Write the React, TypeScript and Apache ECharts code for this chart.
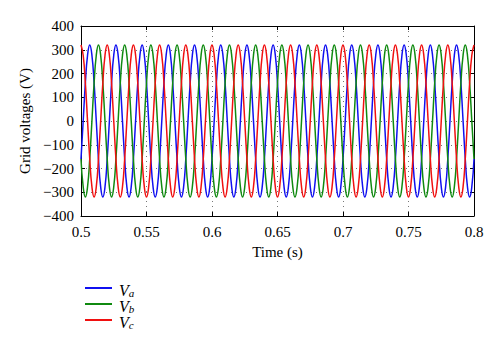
import React, { useEffect, useRef } from "react";
import * as echarts from "echarts";

// Legend / series names
const seriesNames = ["Va", "Vb", "Vc"];
const seriesColors = ["#1010f0", "#108a10", "#f01010"];

// Sampling of the waveforms (s)
const startTime = 0.5;
const sampleStep = 1 / 600;

// Axis ticks
const xTicks = { min: 0.5, max: 0.8, interval: 0.05 };
const yTicks = { min: -400, max: 400, interval: 100 };

// Grid voltages (V) at every sample (30° steps)
const va = [
  -160, 0, 160, 277, 320, 277, 160, 0, -160, -277, -320, -277,
  -160, 0, 160, 277, 320, 277, 160, 0, -160, -277, -320, -277,
  -160, 0, 160, 277, 320, 277, 160, 0, -160, -277, -320, -277,
  -160, 0, 160, 277, 320, 277, 160, 0, -160, -277, -320, -277,
  -160, 0, 160, 277, 320, 277, 160, 0, -160, -277, -320, -277,
  -160, 0, 160, 277, 320, 277, 160, 0, -160, -277, -320, -277,
  -160, 0, 160, 277, 320, 277, 160, 0, -160, -277, -320, -277,
  -160, 0, 160, 277, 320, 277, 160, 0, -160, -277, -320, -277,
  -160, 0, 160, 277, 320, 277, 160, 0, -160, -277, -320, -277,
  -160, 0, 160, 277, 320, 277, 160, 0, -160, -277, -320, -277,
  -160, 0, 160, 277, 320, 277, 160, 0, -160, -277, -320, -277,
  -160, 0, 160, 277, 320, 277, 160, 0, -160, -277, -320, -277,
  -160, 0, 160, 277, 320, 277, 160, 0, -160, -277, -320, -277,
  -160, 0, 160, 277, 320, 277, 160, 0, -160, -277, -320, -277,
  -160, 0, 160, 277, 320, 277, 160, 0, -160, -277, -320, -277,
  -160,
];

const vb = [
  -160, -277, -320, -277, -160, 0, 160, 277, 320, 277, 160, 0,
  -160, -277, -320, -277, -160, 0, 160, 277, 320, 277, 160, 0,
  -160, -277, -320, -277, -160, 0, 160, 277, 320, 277, 160, 0,
  -160, -277, -320, -277, -160, 0, 160, 277, 320, 277, 160, 0,
  -160, -277, -320, -277, -160, 0, 160, 277, 320, 277, 160, 0,
  -160, -277, -320, -277, -160, 0, 160, 277, 320, 277, 160, 0,
  -160, -277, -320, -277, -160, 0, 160, 277, 320, 277, 160, 0,
  -160, -277, -320, -277, -160, 0, 160, 277, 320, 277, 160, 0,
  -160, -277, -320, -277, -160, 0, 160, 277, 320, 277, 160, 0,
  -160, -277, -320, -277, -160, 0, 160, 277, 320, 277, 160, 0,
  -160, -277, -320, -277, -160, 0, 160, 277, 320, 277, 160, 0,
  -160, -277, -320, -277, -160, 0, 160, 277, 320, 277, 160, 0,
  -160, -277, -320, -277, -160, 0, 160, 277, 320, 277, 160, 0,
  -160, -277, -320, -277, -160, 0, 160, 277, 320, 277, 160, 0,
  -160, -277, -320, -277, -160, 0, 160, 277, 320, 277, 160, 0,
  -160,
];

const vc = [
  320, 277, 160, 0, -160, -277, -320, -277, -160, 0, 160, 277,
  320, 277, 160, 0, -160, -277, -320, -277, -160, 0, 160, 277,
  320, 277, 160, 0, -160, -277, -320, -277, -160, 0, 160, 277,
  320, 277, 160, 0, -160, -277, -320, -277, -160, 0, 160, 277,
  320, 277, 160, 0, -160, -277, -320, -277, -160, 0, 160, 277,
  320, 277, 160, 0, -160, -277, -320, -277, -160, 0, 160, 277,
  320, 277, 160, 0, -160, -277, -320, -277, -160, 0, 160, 277,
  320, 277, 160, 0, -160, -277, -320, -277, -160, 0, 160, 277,
  320, 277, 160, 0, -160, -277, -320, -277, -160, 0, 160, 277,
  320, 277, 160, 0, -160, -277, -320, -277, -160, 0, 160, 277,
  320, 277, 160, 0, -160, -277, -320, -277, -160, 0, 160, 277,
  320, 277, 160, 0, -160, -277, -320, -277, -160, 0, 160, 277,
  320, 277, 160, 0, -160, -277, -320, -277, -160, 0, 160, 277,
  320, 277, 160, 0, -160, -277, -320, -277, -160, 0, 160, 277,
  320, 277, 160, 0, -160, -277, -320, -277, -160, 0, 160, 277,
  320,
];

const seriesValues = [va, vb, vc];

const FONT = "Liberation Serif";

export default function App() {
  const ref = useRef<HTMLDivElement>(null);

  useEffect(() => {
    if (!ref.current) return;
    const chart = echarts.init(ref.current, undefined, { renderer: "svg" });

    const toPairs = (vals: number[]) =>
      vals.map((v, k) => [startTime + k * sampleStep, v]);

    const axisLine = { show: true, onZero: false, lineStyle: { color: "#000", width: 1 } };
    const axisTick = { show: true, inside: true, length: 4, lineStyle: { color: "#000" } };
    const splitLine = {
      show: true,
      lineStyle: { color: "#777", width: 1, type: [1, 4] as any },
    };

    chart.setOption({
      animation: false,
      backgroundColor: "#fff",
      textStyle: { fontFamily: FONT },
      grid: { left: 81, right: 26, top: 26, bottom: 140, containLabel: false },
      xAxis: [
        {
          type: "value",
          position: "bottom",
          ...xTicks,
          axisLine,
          axisTick,
          splitLine,
          axisLabel: {
            color: "#000",
            fontFamily: FONT,
            fontSize: 15,
            margin: 8,
            formatter: (v: number) => String(Number(v.toFixed(2))),
          },
          name: "Time (s)",
          nameLocation: "middle",
          nameGap: 28,
          nameTextStyle: { color: "#000", fontFamily: FONT, fontSize: 15 },
        },
        {
          type: "value",
          position: "top",
          ...xTicks,
          axisLine,
          axisTick,
          splitLine: { show: false },
          axisLabel: { show: false },
        },
      ],
      yAxis: [
        {
          type: "value",
          position: "left",
          ...yTicks,
          axisLine,
          axisTick,
          splitLine,
          axisLabel: {
            color: "#000",
            fontFamily: FONT,
            fontSize: 15,
            margin: 7,
            formatter: (v: number) => String(v).replace("-", "\u2212"),
          },
          name: "Grid voltages (V)",
          nameLocation: "middle",
          nameRotate: 90,
          nameGap: 46,
          nameTextStyle: { color: "#000", fontFamily: FONT, fontSize: 15 },
        },
        {
          type: "value",
          position: "right",
          ...yTicks,
          axisLine,
          axisTick,
          splitLine: { show: false },
          axisLabel: { show: false },
        },
      ],
      legend: {
        data: seriesNames,
        orient: "vertical",
        left: 80,
        top: 277,
        icon: "rect",
        itemWidth: 27,
        itemHeight: 2,
        itemGap: 0,
        formatter: (name: string) => `{v|V}{s|${name.slice(1)}}`,
        textStyle: {
          color: "#000",
          fontFamily: FONT,
          rich: {
            v: {
              fontFamily: FONT,
              fontStyle: "italic",
              fontSize: 16,
              lineHeight: 20,
              verticalAlign: "bottom",
              padding: [0, 0, 0, 2],
              color: "#000",
            },
            s: {
              fontFamily: FONT,
              fontStyle: "italic",
              fontSize: 11,
              lineHeight: 11,
              verticalAlign: "bottom",
              color: "#000",
            },
          },
        },
      },
      series: seriesNames.map((name, i) => ({
        name,
        type: "line",
        xAxisIndex: 0,
        yAxisIndex: 0,
        data: toPairs(seriesValues[i]),
        smooth: true,
        showSymbol: false,
        symbol: "none",
        color: seriesColors[i],
        lineStyle: { color: seriesColors[i], width: 1.5 },
      })),
    });

    return () => chart.dispose();
  }, []);

  return (
    <div
      ref={ref}
      style={{ position: "absolute", left: 0, top: 0, width: 500, height: 356 }}
    />
  );
}
